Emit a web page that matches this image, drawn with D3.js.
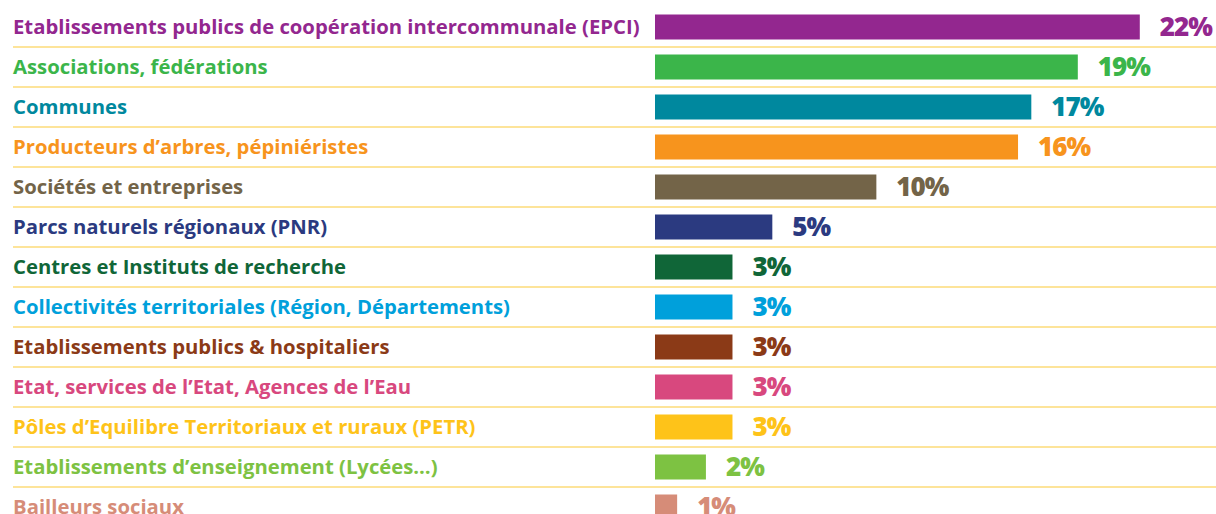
<!DOCTYPE html>
<html>
<head>
<meta charset="utf-8">
<script src="https://cdn.jsdelivr.net/npm/d3@7"></script>
<style>
  body { margin: 0; background: #fff; }
  svg text { font-family: "Open Sans", "Noto Sans", sans-serif; }
</style>
</head>
<body>
<div id="chart"></div>
<script>
// data
var categories = [
  "Etablissements publics de coopération intercommunale (EPCI)",
  "Associations, fédérations",
  "Communes",
  "Producteurs d’arbres, pépiniéristes",
  "Sociétés et entreprises",
  "Parcs naturels régionaux (PNR)",
  "Centres et Instituts de recherche",
  "Collectivités territoriales (Région, Départements)",
  "Etablissements publics & hospitaliers",
  "Etat, services de l’Etat, Agences de l’Eau",
  "Pôles d’Equilibre Territoriaux et ruraux (PETR)",
  "Etablissements d’enseignement (Lycées…)",
  "Bailleurs sociaux"
]
var values = [21.9, 19.1, 17.0, 16.4, 10.0, 5.3, 3.5, 3.5, 3.5, 3.5, 3.5, 2.3, 1.0]
var valueLabels = ["22%", "19%", "17%", "16%", "10%", "5%", "3%", "3%", "3%", "3%", "3%", "2%", "1%"]
var colors = ["#93278f", "#3bb54a", "#00889e", "#f7941d", "#736448", "#2b3a80", "#106638",
              "#00a0db", "#8b3a17", "#d8487e", "#fec319", "#7dc242", "#d68c78"]

var w = 1216
var h = 514

var svg = d3.select("#chart").append("svg").attr("width", w).attr("height", h)

var yScale = d3.scaleBand()
    .domain(d3.range(categories.length))
    .range([7, 527])
    .paddingInner(0.375)
    .paddingOuter(0.1875)

var xScale = d3.scaleLinear().domain([0, 22]).range([655, 1142])

// separators between rows
svg.selectAll(".sep")
    .data(categories.slice(1))
    .enter()
    .append("line")
    .attr("class", "sep")
    .attr("x1", 13)
    .attr("x2", w)
    .attr("y1", function(d, i) { return Math.round(yScale(i + 1) - yScale.step() * yScale.paddingInner() / 2) })
    .attr("y2", function(d, i) { return Math.round(yScale(i + 1) - yScale.step() * yScale.paddingInner() / 2) })
    .attr("stroke", "#fde49a")
    .attr("stroke-width", 2)

svg.selectAll(".bar")
    .data(values)
    .enter()
    .append("rect")
    .attr("class", "bar")
    .attr("x", xScale(0))
    .attr("y", function(d, i) { return yScale(i) })
    .attr("width", function(d) { return xScale(d) - xScale(0) })
    .attr("height", yScale.bandwidth())
    .attr("fill", function(d, i) { return colors[i] })

svg.selectAll(".cat")
    .data(categories)
    .enter()
    .append("text")
    .attr("class", "cat")
    .attr("x", 13)
    .attr("y", function(d, i) { return yScale(i) + yScale.bandwidth() / 2 })
    .attr("dy", "0.35em")
    .style("font-size", "20.3px")
    .style("font-weight", "bold")
    .style("fill", function(d, i) { return colors[i] })
    .text(function(d) { return d })

svg.selectAll(".val")
    .data(values)
    .enter()
    .append("text")
    .attr("class", "val")
    .attr("x", function(d) { return xScale(d) + 20 })
    .attr("y", function(d, i) { return yScale(i) + yScale.bandwidth() / 2 })
    .attr("dy", "0.36em")
    .style("font-size", "26px")
    .style("font-weight", "800")
    .style("letter-spacing", "-1px")
    .style("fill", function(d, i) { return colors[i] })
    .text(function(d, i) { return valueLabels[i] })
</script>
</body>
</html>
